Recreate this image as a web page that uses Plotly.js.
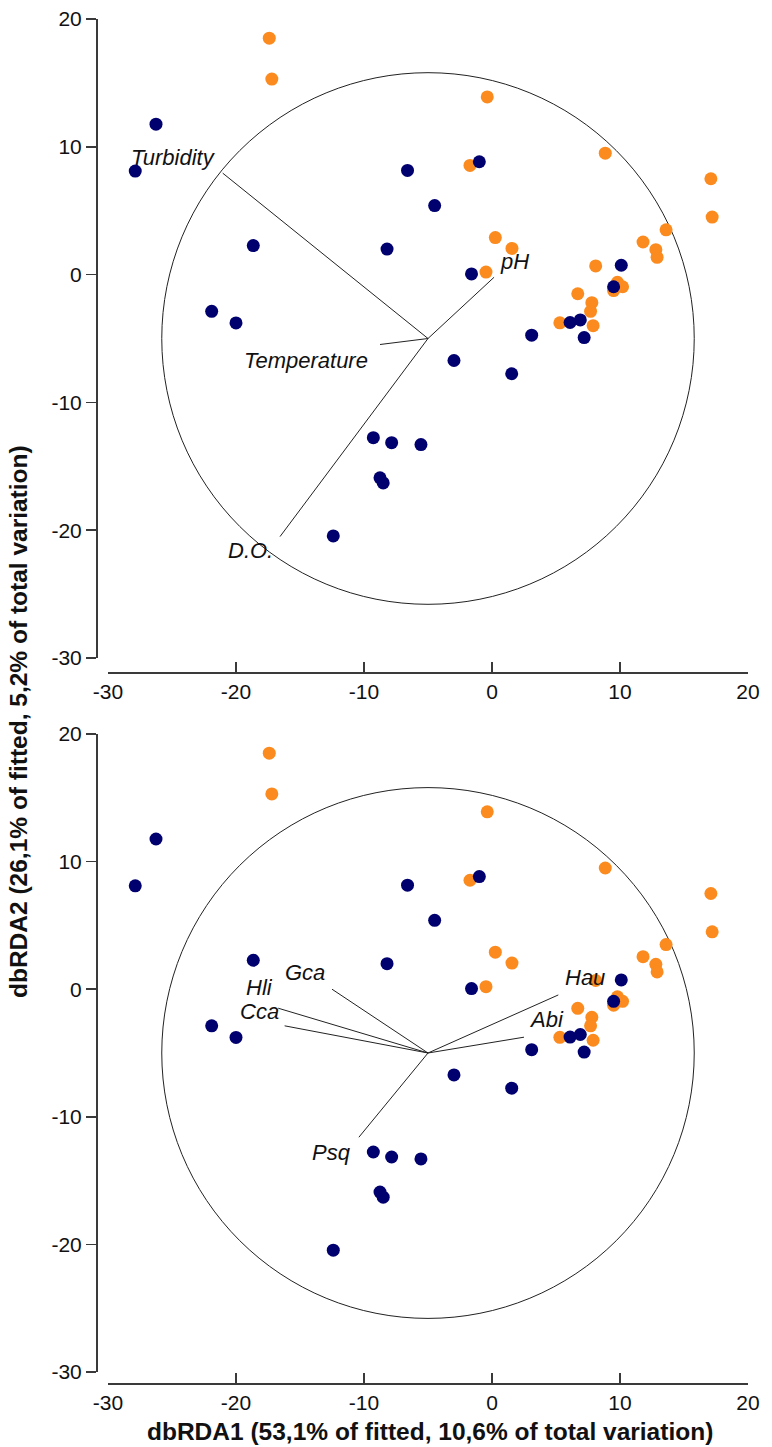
<!DOCTYPE html>
<html>
<head>
<meta charset="utf-8">
<script src="https://cdn.plot.ly/plotly-3.0.1.min.js"></script>
<style>
html,body{margin:0;padding:0;background:#fff;}
#chart{width:772px;height:1447px;}
</style>
</head>
<body>
<div id="chart"></div>
<script>
// ---- Sample scores (dbRDA1, dbRDA2) ----
const orangeX = [-17.4, -17.2, -0.37, -1.72, 8.85, 17.1, 17.2, 13.6, 11.8, 12.8, 12.9, 0.26, 1.56, -0.47, 8.1, 6.7, 7.8, 7.7, 7.9, 5.3, 9.8, 10.2, 9.5];
const orangeY = [18.5, 15.3, 13.9, 8.54, 9.5, 7.5, 4.5, 3.5, 2.55, 1.95, 1.35, 2.9, 2.05, 0.2, 0.68, -1.5, -2.2, -2.87, -4.0, -3.77, -0.6, -0.95, -1.25];
const navyX = [-27.87, -26.25, -18.65, -21.9, -20.0, -8.2, -6.6, -4.48, -0.99, -1.6, 10.1, 9.5, 6.1, 6.9, 3.1, 7.2, -2.97, 1.54, -9.27, -7.84, -5.55, -8.75, -8.5, -12.4];
const navyY = [8.1, 11.77, 2.27, -2.87, -3.78, 2.0, 8.15, 5.4, 8.83, 0.05, 0.73, -0.95, -3.75, -3.55, -4.74, -4.93, -6.72, -7.76, -12.76, -13.15, -13.3, -15.9, -16.3, -20.45];

// ---- Environmental vectors (top panel) ----
const envNames = ['Turbidity', 'pH', 'Temperature', 'D.O.'];
const envX = [-21.04, 0.16, -8.75, -16.56];
const envY = [7.94, -0.21, -5.47, -20.5];

// ---- Species vectors (bottom panel) ----
const spNames = ['Gca', 'Hli', 'Cca', 'Hau', 'Abi', 'Psq'];
const spX = [-12.5, -16.7, -16.2, 5.18, 2.5, -10.4];
const spY = [0.0, -1.49, -2.87, -0.45, -3.76, -11.6];

// vector origin and correlation circle
const origin = [-5, -5];
const circleRadius = 20.8;

// axis ticks
const tickVals = [-30, -20, -10, 0, 10, 20];
const tickText = ['-30', '-20', '-10', '0', '10', '20'];
const xTitle = 'dbRDA1 (53,1% of fitted, 10,6% of total variation)';
const yTitle = 'dbRDA2 (26,1% of fitted, 5,2% of total variation)';

// label placement (layout)
const envLabelPos = [[-24.9, 9.18], [1.73, 1.04], [-14.55, -6.7], [-18.9, -21.55]];
const spLabelPos = [[-14.6, 1.3], [-18.2, 0.15], [-18.2, -1.75], [7.24, 0.92], [4.23, -2.4], [-12.52, -12.78]];

const W = 772, H = 1447;
const px = v => v / W;
const py = v => 1 - v / H;

const NAVY = '#00006e';
const ORANGE = '#fb8b1e';
const LINE = '#222222';
const AXC = '#3a3a3a';

function vecTrace(xs, ys, xa, ya) {
  const x = [], y = [];
  xs.forEach((v, i) => { x.push(origin[0], v, null); y.push(origin[1], ys[i], null); });
  return {x, y, xaxis: xa, yaxis: ya, mode: 'lines', line: {color: LINE, width: 1}, hoverinfo: 'skip', showlegend: false};
}
function pts(xs, ys, color, xa, ya) {
  return {x: xs, y: ys, xaxis: xa, yaxis: ya, mode: 'markers', type: 'scatter',
    marker: {color: color, size: 13, line: {width: 0}}, showlegend: false};
}

const traces = [
  vecTrace(envX, envY, 'x', 'y'),
  pts(orangeX, orangeY, ORANGE, 'x', 'y'),
  pts(navyX, navyY, NAVY, 'x', 'y'),
  vecTrace(spX, spY, 'x2', 'y2'),
  pts(orangeX, orangeY, ORANGE, 'x2', 'y2'),
  pts(navyX, navyY, NAVY, 'x2', 'y2')
];

const tickFont = {family: 'Arial, "Liberation Sans", sans-serif', size: 21, color: '#111'};

function xAx(pos) {
  return {range: [-30, 20], domain: [px(108), px(748)], anchor: 'free', position: py(pos),
    showline: true, linecolor: AXC, linewidth: 1.5, ticks: 'inside', ticklen: 10, tickwidth: 1.5, tickcolor: AXC,
    tickvals: tickVals, ticktext: tickText, tickfont: tickFont, showgrid: false, zeroline: false, fixedrange: true};
}
function yAx(d0, d1) {
  return {range: [-30, 20], domain: [py(d1), py(d0)], anchor: 'free', position: px(96),
    showline: true, linecolor: AXC, linewidth: 1.5, ticks: 'outside', ticklen: 10, tickwidth: 1.5, tickcolor: AXC,
    tickvals: tickVals, ticktext: tickText, tickfont: tickFont, showgrid: false, zeroline: false, fixedrange: true};
}
function yOver(over, d0, d1) {
  return {range: [-30, 20], domain: [py(d1), py(d0)], anchor: 'free', position: px(96), overlaying: over,
    showline: false, ticks: 'inside', ticklen: 8, tickwidth: 1.5, tickcolor: AXC,
    tickvals: tickVals, showticklabels: false, showgrid: false, zeroline: false, fixedrange: true};
}

const shapes = [
  {type: 'circle', xref: 'x', yref: 'y', x0: origin[0] - circleRadius, x1: origin[0] + circleRadius,
   y0: origin[1] - circleRadius, y1: origin[1] + circleRadius, line: {color: LINE, width: 1}, layer: 'below'},
  {type: 'circle', xref: 'x2', yref: 'y2', x0: origin[0] - circleRadius, x1: origin[0] + circleRadius,
   y0: origin[1] - circleRadius, y1: origin[1] + circleRadius, line: {color: LINE, width: 1}, layer: 'below'}
];

const labFont = {family: 'Arial, "Liberation Sans", sans-serif', size: 22, color: '#111'};
const annotations = [];
envNames.forEach((n, i) => annotations.push({x: envLabelPos[i][0], y: envLabelPos[i][1], xref: 'x', yref: 'y',
  text: '<i>' + n + '</i>', showarrow: false, font: labFont, xanchor: 'center', yanchor: 'middle'}));
spNames.forEach((n, i) => annotations.push({x: spLabelPos[i][0], y: spLabelPos[i][1], xref: 'x2', yref: 'y2',
  text: '<i>' + n + '</i>', showarrow: false, font: labFont, xanchor: 'center', yanchor: 'middle'}));
annotations.push({x: px(430), y: py(1431), xref: 'paper', yref: 'paper', text: '<b>' + xTitle + '</b>',
  showarrow: false, xanchor: 'center', yanchor: 'middle', font: {family: 'Arial, "Liberation Sans", sans-serif', size: 24.5, color: '#111'}});
annotations.push({x: px(19), y: py(722), xref: 'paper', yref: 'paper', text: '<b>' + yTitle + '</b>', textangle: -90,
  showarrow: false, xanchor: 'center', yanchor: 'middle', font: {family: 'Arial, "Liberation Sans", sans-serif', size: 24.5, color: '#111'}});

const layout = {
  width: W, height: H, margin: {l: 0, r: 0, t: 0, b: 0},
  paper_bgcolor: '#fff', plot_bgcolor: 'rgba(0,0,0,0)', showlegend: false,
  xaxis: xAx(672), yaxis: yAx(19, 658),
  xaxis2: xAx(1383), yaxis2: yAx(734, 1372),
  yaxis3: yOver('y', 19, 658), yaxis4: yOver('y2', 734, 1372),
  shapes: shapes, annotations: annotations
};

Plotly.newPlot('chart', traces, layout, {displayModeBar: false, staticPlot: true});
</script>
</body>
</html>
